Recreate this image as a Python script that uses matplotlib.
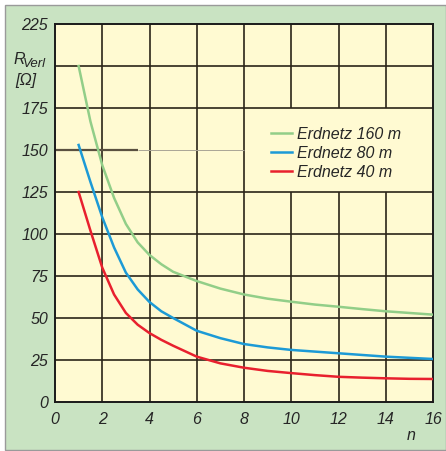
import matplotlib
matplotlib.use('Agg')
import matplotlib.pyplot as plt
from matplotlib.patches import Rectangle

# values
n_vals = [1, 1.5, 2, 2.5, 3, 3.5, 4, 4.5, 5, 6, 7, 8, 9, 10, 11, 12, 13, 14, 15, 16]
r_160 = [200, 167, 141, 121.5, 106, 95, 87.5, 82, 77.5, 72, 67.5, 64, 61.5, 59.7, 58, 56.7, 55.3, 54, 53, 52]
r_80 = [153, 131, 110, 92, 77, 67, 59.5, 54, 50, 42.4, 38, 34.5, 32.5, 31, 30, 29, 28, 27, 26.3, 25.6]
r_40 = [125, 102, 80, 64, 53, 46, 41, 37, 33.5, 27, 23, 20.4, 18.5, 17.2, 16, 15, 14.5, 14.1, 13.8, 13.7]

labels = ['Erdnetz 160 m', 'Erdnetz 80 m', 'Erdnetz 40 m']
colors = ['#92ce88', '#1c9ad6', '#e8202e']

x_ticks = list(range(0, 17, 2))
y_ticks = list(range(0, 226, 25))

FONT = ['Liberation Sans Narrow', 'Liberation Sans', 'DejaVu Sans']
plt.rcParams['font.family'] = FONT
plt.rcParams['font.style'] = 'italic'

BG = '#c9e3c2'
PLOT_BG = '#fffad2'
GRID = '#2b2519'
TEXT = '#262626'

fig = plt.figure(figsize=(4.46, 4.51), dpi=100, facecolor='white')
fig.patches.append(Rectangle((5 / 446, 1 / 451), 441 / 446, 445 / 451, transform=fig.transFigure,
                             facecolor=BG, edgecolor='#9a9a9a', linewidth=1.0, zorder=-10))

ax = fig.add_axes([55 / 446, 49 / 451, 378 / 446, 378 / 451])
ax.set_facecolor(PLOT_BG)
ax.set_xlim(0, 16)
ax.set_ylim(0, 225)

# grid drawn by hand so the legend box can interrupt it
for x in x_ticks[1:-1]:
    if x >= 10:
        ax.vlines(x, 0, 125, color=GRID, lw=1.2, zorder=1)
        ax.vlines(x, 175, 225, color=GRID, lw=1.2, zorder=1)
    else:
        ax.vlines(x, 0, 225, color=GRID, lw=1.2, zorder=1)
for y in y_ticks[1:-1]:
    if y == 150:
        ax.hlines(y, 0, 3.5, color='#5a5040', lw=1.6, zorder=1)
        ax.hlines(y, 3.5, 8, color='#aaa596', lw=0.7, zorder=1)
    else:
        ax.hlines(y, 0, 16, color=GRID, lw=1.2, zorder=1)

for vals, lab, col in zip([r_160, r_80, r_40], labels, colors):
    ax.plot(n_vals, vals, color=col, lw=1.8, label=lab, zorder=3,
            solid_joinstyle='round')

for side in ['left', 'right', 'top', 'bottom']:
    ax.spines[side].set_color('#1a1a1a')
    ax.spines[side].set_linewidth(1.4)

ax.set_xticks(x_ticks)
ax.set_yticks(y_ticks)
ax.set_yticklabels(['' if y == 200 else str(y) for y in y_ticks])
ax.tick_params(length=0, labelsize=11.5, colors=TEXT, pad=5)
ax.tick_params(axis='x', pad=7)

# axis labels: R with subscript "Verl", unit below
fig.text(13 / 446, 1 - 60 / 451, 'R', fontsize=11.5, ha='left', va='center', color=TEXT)
fig.text(23 / 446, 1 - 64 / 451, 'Verl', fontsize=9.5, ha='left', va='center', color=TEXT)
fig.text(15 / 446, 1 - 81 / 451, '[Ω]', fontsize=11.5, ha='left', va='center', color=TEXT)
fig.text(411 / 446, 1 - 436 / 451, 'n', fontsize=11.5, ha='center', va='center', color=TEXT)

leg = ax.legend(loc='upper left', bbox_to_anchor=(0.571, 0.728), frameon=False, fontsize=11.5,
                handlelength=1.3, handletextpad=0.35, labelspacing=0.25, borderpad=0,
                borderaxespad=0)
for t in leg.get_texts():
    t.set_color(TEXT)

fig.savefig('out.png', dpi=100, facecolor=fig.get_facecolor())
